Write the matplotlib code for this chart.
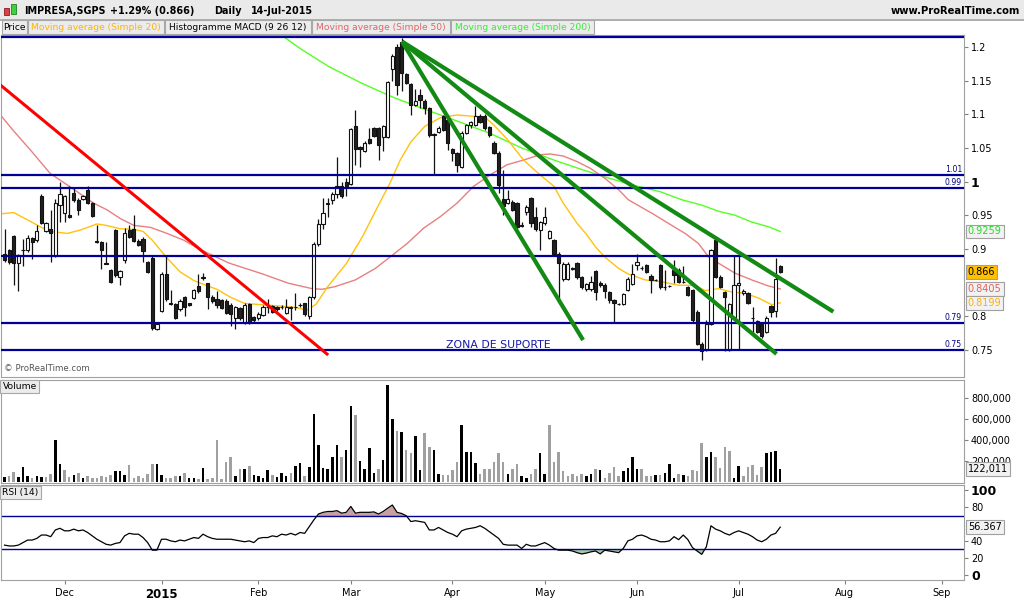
import numpy as np
import pandas as pd
import matplotlib
matplotlib.use('Agg')
import matplotlib.pyplot as plt
from matplotlib.patches import Rectangle
from matplotlib.transforms import blended_transform_factory

# trading calendar (Euronext Lisbon)
holidays = ['2014-12-25', '2014-12-26', '2015-01-01', '2015-04-03', '2015-04-06', '2015-05-01']
days = pd.bdate_range('2014-11-12', '2015-09-30', freq='C', holidays=holidays)

opens = [0.893, 0.898, 0.919, 0.879, 0.898, 0.898, 0.916, 0.913, 0.979, 0.927,
         0.930, 0.890, 0.965, 0.954, 0.950, 0.983, 0.973, 0.974, 0.988, 0.968,
         0.912, 0.911, 0.879, 0.869, 0.928, 0.858, 0.883, 0.928, 0.930, 0.912,
         0.915, 0.880, 0.887, 0.781, 0.808, 0.863, 0.819, 0.818, 0.810, 0.829,
         0.819, 0.827, 0.845, 0.857, 0.849, 0.829, 0.826, 0.824, 0.823, 0.817,
         0.798, 0.812, 0.790, 0.818, 0.799, 0.797, 0.802, 0.813, 0.815, 0.813,
         0.814, 0.805, 0.813, 0.814, 0.817, 0.819, 0.800, 0.828, 0.908, 0.937,
         0.967, 0.973, 0.981, 0.993, 0.999, 0.997, 1.082, 1.051, 1.046, 1.064,
         1.079, 1.079, 1.066, 1.067, 1.168, 1.200, 1.208, 1.160, 1.145, 1.114,
         1.129, 1.120, 1.109, 1.070, 1.074, 1.097, 1.091, 1.048, 1.042, 1.022,
         1.072, 1.084, 1.084, 1.098, 1.098, 1.081, 1.058, 1.043, 0.974, 0.968,
         0.970, 0.968, 0.935, 0.955, 0.975, 0.948, 0.928, 0.938, 0.916, 0.913,
         0.893, 0.855, 0.856, 0.871, 0.879, 0.858, 0.840, 0.841, 0.867, 0.850,
         0.847, 0.836, 0.824, 0.818, 0.818, 0.839, 0.848, 0.876, 0.871, 0.876,
         0.860, 0.854, 0.876, 0.843, 0.845, 0.868, 0.869, 0.851, 0.843, 0.839,
         0.807, 0.759, 0.750, 0.789, 0.913, 0.859, 0.836, 0.750, 0.799, 0.846,
         0.834, 0.834, 0.798, 0.793, 0.789, 0.777, 0.815, 0.808, 0.874]
highs = [0.930, 0.900, 0.921, 0.893, 0.915, 0.920, 0.918, 0.935, 0.981, 0.940,
         0.958, 0.974, 1.000, 0.980, 0.994, 0.990, 0.975, 0.980, 0.994, 0.970,
         0.936, 0.912, 0.911, 0.870, 0.930, 0.869, 0.931, 0.936, 0.950, 0.914,
         0.917, 0.882, 0.889, 0.790, 0.865, 0.889, 0.839, 0.820, 0.826, 0.830,
         0.820, 0.840, 0.862, 0.864, 0.850, 0.832, 0.838, 0.826, 0.825, 0.819,
         0.815, 0.814, 0.819, 0.820, 0.801, 0.806, 0.816, 0.826, 0.817, 0.815,
         0.816, 0.826, 0.815, 0.834, 0.819, 0.820, 0.830, 0.910, 0.945, 0.975,
         0.975, 0.985, 1.037, 1.000, 1.005, 1.080, 1.107, 1.053, 1.060, 1.079,
         1.081, 1.081, 1.084, 1.150, 1.189, 1.205, 1.213, 1.162, 1.147, 1.138,
         1.137, 1.122, 1.111, 1.072, 1.082, 1.099, 1.093, 1.050, 1.044, 1.075,
         1.086, 1.090, 1.112, 1.100, 1.100, 1.083, 1.060, 1.045, 1.017, 0.988,
         0.972, 0.970, 0.940, 0.965, 0.977, 0.963, 0.942, 0.963, 0.928, 0.915,
         0.895, 0.880, 0.880, 0.873, 0.881, 0.860, 0.850, 0.860, 0.869, 0.852,
         0.849, 0.838, 0.826, 0.820, 0.835, 0.858, 0.878, 0.893, 0.875, 0.877,
         0.862, 0.856, 0.877, 0.869, 0.847, 0.883, 0.871, 0.874, 0.845, 0.841,
         0.809, 0.761, 0.794, 0.900, 0.916, 0.861, 0.838, 0.820, 0.889, 0.889,
         0.840, 0.836, 0.813, 0.795, 0.791, 0.800, 0.817, 0.886, 0.876]
lows = [0.880, 0.878, 0.847, 0.837, 0.875, 0.895, 0.885, 0.911, 0.937, 0.925,
        0.881, 0.888, 0.940, 0.940, 0.946, 0.970, 0.950, 0.972, 0.966, 0.948,
        0.909, 0.870, 0.877, 0.850, 0.858, 0.846, 0.879, 0.916, 0.910, 0.904,
        0.881, 0.864, 0.780, 0.780, 0.806, 0.823, 0.816, 0.796, 0.808, 0.800,
        0.815, 0.825, 0.835, 0.854, 0.810, 0.820, 0.812, 0.810, 0.803, 0.785,
        0.781, 0.795, 0.788, 0.788, 0.792, 0.795, 0.800, 0.805, 0.805, 0.808,
        0.811, 0.803, 0.794, 0.809, 0.814, 0.801, 0.796, 0.825, 0.905, 0.930,
        0.948, 0.966, 0.975, 0.976, 0.978, 0.995, 1.025, 1.022, 1.044, 1.056,
        1.066, 1.032, 1.045, 1.065, 1.150, 1.128, 1.135, 1.145, 1.099, 1.112,
        1.110, 1.100, 1.067, 1.010, 1.072, 1.075, 1.047, 1.030, 1.015, 1.020,
        1.070, 1.080, 1.082, 1.087, 1.077, 1.067, 1.041, 0.983, 0.950, 0.966,
        0.956, 0.930, 0.932, 0.950, 0.933, 0.927, 0.898, 0.936, 0.914, 0.891,
        0.824, 0.853, 0.854, 0.868, 0.856, 0.841, 0.838, 0.838, 0.824, 0.844,
        0.827, 0.820, 0.790, 0.816, 0.816, 0.837, 0.846, 0.869, 0.868, 0.864,
        0.834, 0.852, 0.841, 0.839, 0.843, 0.849, 0.849, 0.849, 0.830, 0.792,
        0.757, 0.735, 0.748, 0.787, 0.857, 0.842, 0.749, 0.748, 0.797, 0.750,
        0.832, 0.818, 0.775, 0.775, 0.768, 0.775, 0.799, 0.799, 0.864]
closes = [0.884, 0.881, 0.879, 0.891, 0.898, 0.916, 0.911, 0.926, 0.939, 0.938,
          0.923, 0.968, 0.981, 0.978, 0.948, 0.973, 0.958, 0.979, 0.968, 0.949,
          0.910, 0.898, 0.878, 0.851, 0.861, 0.867, 0.923, 0.918, 0.912, 0.906,
          0.897, 0.866, 0.782, 0.788, 0.863, 0.825, 0.818, 0.798, 0.823, 0.814,
          0.817, 0.839, 0.838, 0.858, 0.829, 0.822, 0.817, 0.812, 0.805, 0.804,
          0.813, 0.797, 0.817, 0.790, 0.794, 0.804, 0.814, 0.814, 0.807, 0.810,
          0.813, 0.813, 0.812, 0.813, 0.816, 0.803, 0.828, 0.908, 0.937, 0.954,
          0.968, 0.981, 0.993, 0.979, 0.993, 1.078, 1.048, 1.048, 1.058, 1.058,
          1.068, 1.055, 1.082, 1.148, 1.186, 1.144, 1.162, 1.147, 1.114, 1.120,
          1.121, 1.109, 1.069, 1.069, 1.080, 1.077, 1.058, 1.042, 1.025, 1.072,
          1.084, 1.088, 1.098, 1.089, 1.079, 1.069, 1.043, 0.995, 0.964, 0.974,
          0.958, 0.933, 0.934, 0.963, 0.938, 0.929, 0.940, 0.947, 0.926, 0.893,
          0.879, 0.878, 0.877, 0.870, 0.858, 0.843, 0.848, 0.851, 0.836, 0.846,
          0.838, 0.824, 0.819, 0.818, 0.833, 0.856, 0.863, 0.880, 0.871, 0.866,
          0.854, 0.854, 0.843, 0.843, 0.845, 0.861, 0.851, 0.851, 0.832, 0.794,
          0.759, 0.749, 0.789, 0.898, 0.859, 0.844, 0.828, 0.818, 0.847, 0.849,
          0.838, 0.820, 0.798, 0.777, 0.770, 0.798, 0.807, 0.855, 0.866]
volumes = [50, 55, 95, 45, 140, 60, 40, 55, 50, 45,
           80, 400, 170, 115, 50, 65, 85, 40, 55, 40,
           35, 55, 45, 65, 100, 100, 65, 160, 40, 55,
           40, 75, 175, 170, 65, 40, 40, 55, 60, 85,
           40, 40, 30, 130, 30, 40, 400, 30, 190, 240,
           60, 120, 120, 150, 70, 60, 40, 116, 70, 50,
           90, 60, 90, 150, 180, 60, 140, 650, 350, 130,
           123, 240, 350, 240, 300, 727, 640, 200, 123, 320,
           85, 123, 210, 926, 595, 485, 475, 300, 280, 438,
           116, 470, 334, 305, 75, 65, 70, 110, 190, 540,
           287, 287, 176, 75, 123, 123, 192, 280, 190, 75,
           120, 170, 60, 40, 75, 120, 275, 75, 540, 192,
           287, 105, 55, 75, 55, 75, 60, 75, 123, 116,
           40, 85, 145, 60, 105, 130, 240, 123, 123, 55,
           55, 65, 65, 85, 170, 40, 75, 65, 55, 116,
           105, 370, 240, 287, 240, 130, 337, 296, 40, 150,
           55, 145, 160, 65, 140, 275, 287, 296, 122.011]
rsi = [35, 34, 34, 35, 38, 41, 41, 43, 47, 47,
       45, 53, 55, 52, 52, 54, 52, 53, 50, 46,
       42, 39, 36, 35, 37, 38, 46, 49, 48, 48,
       44, 38, 29, 29, 42, 42, 40, 39, 41, 40,
       42, 44, 43, 48, 45, 43, 42, 42, 42, 42,
       41, 40, 39, 40, 38, 43, 44, 44, 46, 45,
       48, 47, 49, 47, 50, 49, 57, 65, 72, 74,
       75, 75, 76, 73, 74, 81, 73, 74, 74, 74,
       74.5, 72, 75, 79, 82.7, 74, 72.6, 70, 63, 64,
       63, 62, 53, 53, 56, 53, 50, 48, 45, 52,
       54, 55, 56, 58, 55, 51, 47, 43, 36, 35,
       35, 35, 31, 36, 34, 34, 36, 38, 35, 31,
       29, 29, 29, 28, 26, 24.5, 25.5, 27, 28, 24.5,
       29, 28, 27, 26, 31, 40, 42, 46, 47, 45,
       42, 41, 39, 39, 40, 45, 41.5, 47, 41.5, 32,
       28, 24, 33, 58, 54, 52, 49, 47, 50, 52,
       50, 48, 45, 41, 39, 42, 47, 49, 56.367]

# moving averages (bar position, value)
sma20_x = [-1, 2, 5, 8, 10, 13.6, 16.4, 20, 22, 25, 28, 30, 32, 35, 38, 41, 44, 46, 49, 52,
           56, 60, 63, 65.5, 67.5, 70, 74, 77.5, 81, 83.5, 85.7, 88, 91, 94.4, 98, 101.6,
           104, 106, 109, 112.4, 116, 119, 121, 124, 126, 128, 130, 133, 135, 138.7, 142.4,
           146, 149.6, 151.7, 154.6, 157.5, 160.4, 163.3, 166.2, 168]
sma20_v = [0.952, 0.954, 0.943, 0.932, 0.926, 0.923, 0.928, 0.937, 0.935, 0.930, 0.929, 0.926,
           0.913, 0.888, 0.866, 0.853, 0.845, 0.840, 0.828, 0.819, 0.817, 0.815, 0.813, 0.809,
           0.818, 0.844, 0.878, 0.918, 0.965, 0.998, 1.032, 1.059, 1.082, 1.095, 1.099, 1.097,
           1.096, 1.084, 1.062, 1.032, 1.010, 0.993, 0.968, 0.938, 0.922, 0.903, 0.888, 0.871,
           0.863, 0.854, 0.851, 0.846, 0.846, 0.838, 0.841, 0.836, 0.834, 0.827, 0.817, 0.8199]
sma50_x = [-1, 2, 5.6, 9.9, 13.6, 17.2, 19.3, 22.2, 25.1, 28, 31.6, 35.2, 38.8, 42.4, 48.6,
           55.8, 61.5, 66.6, 68.8, 71.6, 76, 80.3, 83.5, 87.2, 90.8, 94.4, 98, 101.6, 105.2,
           108.8, 112.4, 116, 118.2, 121, 123.9, 126.8, 130, 133, 135.1, 140.2, 144.5, 147.4,
           150.3, 152.5, 155.3, 158.2, 161.8, 165.4, 168]
sma50_v = [1.100, 1.075, 1.047, 1.012, 0.995, 0.978, 0.968, 0.958, 0.945, 0.935, 0.932, 0.923,
           0.913, 0.899, 0.879, 0.863, 0.849, 0.841, 0.840, 0.844, 0.854, 0.871, 0.888, 0.908,
           0.931, 0.948, 0.968, 0.993, 1.010, 1.025, 1.032, 1.040, 1.041, 1.038, 1.030, 1.020,
           1.005, 0.988, 0.973, 0.953, 0.935, 0.923, 0.908, 0.888, 0.876, 0.864, 0.854, 0.845,
           0.8405]
sma200_x = [60.5, 64.4, 70.2, 77.4, 84.6, 90.8, 98, 105, 112, 119, 125, 130, 136, 142,
            146.7, 151, 154.6, 158.2, 161.8, 165.4, 168]
sma200_v = [1.215, 1.196, 1.171, 1.146, 1.124, 1.108, 1.090, 1.072, 1.050, 1.032, 1.018,
            1.007, 0.995, 0.985, 0.973, 0.965, 0.956, 0.950, 0.940, 0.933, 0.9259]

# drawn objects
h_levels = [1.215, 1.01, 0.99, 0.89, 0.79, 0.75]
h_labels = {1.01: '1.01', 0.99: '0.99', 0.79: '0.79', 0.75: '0.75'}
red_line = [(-0.9, 1.1435), (70.1, 0.7424)]
green_start = (86.1, 1.208)
green_ends = [(125.3, 0.7646), (167.2, 0.744), (179.5, 0.8067)]

W, H = 1024, 600


def fx(px):
    return px / W


def fy(py):
    return 1 - py / H


def rect(l, t, r, b):
    return [fx(l), fy(b), (r - l) / W, (b - t) / H]


n = len(closes)
x = np.arange(n)
O = np.array(opens); C = np.array(closes); Hh = np.array(highs); L = np.array(lows)
XMIN, XMAX = -0.87, 207.8
border = '#A0A0A0'
navy = '#000099'

fig = plt.figure(figsize=(W / 100, H / 100), dpi=100)
fig.patch.set_facecolor('white')

# header strip
fig.add_artist(Rectangle((0, fy(20)), 1, 20 / H, transform=fig.transFigure,
                         facecolor='#EAEAEA', edgecolor='none'))
fig.add_artist(Rectangle((0, fy(20.5)), 1, 1 / H, transform=fig.transFigure,
                         facecolor='#B0B0B0', edgecolor='none'))
# icon
fig.add_artist(Rectangle((fx(4), fy(15)), 5 / W, 7 / H, transform=fig.transFigure,
                         facecolor='#E04040', edgecolor='#802020', lw=0.6))
fig.add_artist(Rectangle((fx(11), fy(14)), 5 / W, 10 / H, transform=fig.transFigure,
                         facecolor='#40D040', edgecolor='#208020', lw=0.6))
for s, px in [('IMPRESA,SGPS', 24), ('+1.29% (0.866)', 110), ('Daily', 214), ('14-Jul-2015', 251)]:
    fig.text(fx(px), fy(11), s, fontsize=6.9, fontweight='bold', va='center', ha='left')
fig.text(fx(1020), fy(11), 'www.ProRealTime.com', fontsize=7.2, fontweight='bold',
         va='center', ha='right')

# legend row
legend_boxes = [('Price', 2, 27, 'black'),
                ('Moving average (Simple 20)', 28, 164, '#FFB300'),
                ('Histogramme MACD (9 26 12)', 165, 311, 'black'),
                ('Moving average (Simple 50)', 312, 450, '#E06666'),
                ('Moving average (Simple 200)', 451, 594, '#33EE33')]
for s, l, r, col in legend_boxes:
    fig.add_artist(Rectangle((fx(l), fy(34)), (r - l) / W, 14 / H, transform=fig.transFigure,
                             facecolor='#ECECEC', edgecolor='#A8A8A8', lw=0.8))
    fig.text(fx((l + r) / 2), fy(27), s, fontsize=6.6, color=col, va='center', ha='center')

# ---------------- price panel
ax = fig.add_axes(rect(0.5, 35, 964, 377))
ax.set_xlim(XMIN, XMAX)
ax.set_ylim(0.7097, 1.2178)

ax.plot(sma200_x, sma200_v, color='#55FF22', lw=1.0, zorder=2)
ax.plot(sma50_x, sma50_v, color='#E88080', lw=1.0, zorder=2)
ax.plot(sma20_x, sma20_v, color='#FFC20E', lw=1.0, zorder=2)

up = C >= O
ax.vlines(x, L, Hh, color='#111111', lw=0.9, zorder=3)
bot = np.minimum(O, C)
hgt = np.abs(C - O)
ax.bar(x[up], hgt[up], bottom=bot[up], width=0.7, facecolor='white',
       edgecolor='#111111', lw=0.8, zorder=3.5)
ax.bar(x[~up], hgt[~up], bottom=bot[~up], width=0.7, facecolor='#202020',
       edgecolor='#111111', lw=0.8, zorder=3.5)

trans = blended_transform_factory(ax.transAxes, ax.transData)
for lv in h_levels:
    ax.axhline(lv, color=navy, lw=1.6, zorder=4)
    if lv in h_labels:
        ax.text(0.998, lv + 0.002, h_labels[lv], transform=trans, ha='right', va='bottom',
                fontsize=5.6, color='#000080', zorder=6)

(x0, y0), (x1, y1) = red_line
ax.plot([x0, x1], [y0, y1], color='#FF0000', lw=2.2, zorder=5, solid_capstyle='butt')
for ex, ey in green_ends:
    ax.plot([green_start[0], ex], [green_start[1], ey], color='#138A13', lw=3.0, zorder=5,
            solid_capstyle='butt')

ax.text(107, 0.757, 'ZONA DE SUPORTE', fontsize=7.8, color='#1515A8', ha='center',
        va='center', zorder=6)
ax.text(0.004, 0.012, '\u00a9 ProRealTime.com', transform=ax.transAxes, fontsize=6.2,
        color='#555555', ha='left', va='bottom')

ax.yaxis.tick_right()
pticks = [0.75, 0.8, 0.9, 0.95, 1.0, 1.05, 1.1, 1.15, 1.2]
ax.set_yticks(pticks)
ax.set_yticklabels(['0.75', '0.8', '0.9', '0.95', '1', '1.05', '1.1', '1.15', '1.2'])
ax.tick_params(axis='y', length=3, pad=2, labelsize=7, color='#808080')
for t in ax.get_yticklabels():
    if t.get_text() == '1':
        t.set_fontweight('bold')
        t.set_fontsize(9)
ax.set_xticks([])
for sp in ax.spines.values():
    sp.set_color(border)

boxes = [(0.9259, '0.9259', '#22DD22', '#F2F2F2'),
         (0.8405, '0.8405', '#E06060', '#F2F2F2'),
         (0.8199, '0.8199', '#FFB000', '#F2F2F2'),
         (0.866, '0.866', 'black', '#FFC000')]
for val, s, col, bg in boxes:
    ax.text(1.004, val, s, transform=trans, ha='left', va='center', fontsize=7, color=col,
            bbox=dict(boxstyle='square,pad=0.2', fc=bg, ec='#A0A0A0', lw=0.8),
            clip_on=False, zorder=7)

# ---------------- volume panel
axv = fig.add_axes(rect(0.5, 380, 964, 483))
axv.set_xlim(XMIN, XMAX)
axv.set_ylim(-10000, 971000)
vol = np.array(volumes) * 1000
prev = np.concatenate([[C[0]], C[:-1]])
vcol = np.where(C >= prev, '#000000', '#A0A0A0')
axv.bar(x, vol, width=0.55, color=vcol)
axv.yaxis.tick_right()
axv.set_yticks([200000, 400000, 600000, 800000])
axv.set_yticklabels(['200,000', '400,000', '600,000', '800,000'])
axv.tick_params(axis='y', length=3, pad=2, labelsize=7, color='#808080')
axv.set_xticks([])
for sp in axv.spines.values():
    sp.set_color(border)
tv = blended_transform_factory(axv.transAxes, axv.transData)
axv.text(1.004, vol[-1], '122,011', transform=tv, ha='left', va='center', fontsize=7,
         bbox=dict(boxstyle='square,pad=0.2', fc='#F2F2F2', ec='#A0A0A0', lw=0.8),
         clip_on=False, zorder=7)
axv.text(0.002, 0.98, 'Volume', transform=axv.transAxes, ha='left', va='top', fontsize=6.6,
         bbox=dict(boxstyle='square,pad=0.25', fc='#ECECEC', ec='#A8A8A8', lw=0.8))

# ---------------- RSI panel
axr = fig.add_axes(rect(0.5, 485, 964, 580))
axr.set_xlim(XMIN, XMAX)
axr.set_ylim(-6.5, 106.5)
r = np.array(rsi)
axr.fill_between(x, r, 70, where=r > 70, interpolate=True, color='#C9A0A0', lw=0)
axr.fill_between(x, r, 30, where=r < 30, interpolate=True, color='#A6CBA0', lw=0)
axr.axhline(70, color=navy, lw=1.0)
axr.axhline(30, color=navy, lw=1.0)
axr.plot(x, r, color='black', lw=0.9)
axr.yaxis.tick_right()
axr.set_yticks([0, 20, 40, 80, 100])
axr.set_yticklabels(['0', '20', '40', '80', '100'])
axr.tick_params(axis='y', length=3, pad=2, labelsize=7, color='#808080')
for t in axr.get_yticklabels():
    if t.get_text() in ('0', '100'):
        t.set_fontweight('bold')
        t.set_fontsize(9)
for sp in axr.spines.values():
    sp.set_color(border)
tr = blended_transform_factory(axr.transAxes, axr.transData)
axr.text(1.004, r[-1], '56.367', transform=tr, ha='left', va='center', fontsize=7,
         bbox=dict(boxstyle='square,pad=0.2', fc='#F2F2F2', ec='#A0A0A0', lw=0.8), clip_on=False)
axr.text(0.002, 0.97, 'RSI (14)', transform=axr.transAxes, ha='left', va='top', fontsize=6.6,
         bbox=dict(boxstyle='square,pad=0.25', fc='#ECECEC', ec='#A8A8A8', lw=0.8))

# month ticks
mpos, mlab = [], []
for k in range(1, len(days)):
    if days[k].month != days[k - 1].month:
        mpos.append(k)
        mlab.append('2015' if days[k].month == 1 else days[k].strftime('%b'))
axr.set_xticks(mpos)
axr.set_xticklabels(mlab)
axr.tick_params(axis='x', length=3, pad=3, labelsize=7, color='#808080')
for t in axr.get_xticklabels():
    if t.get_text() == '2015':
        t.set_fontweight('bold')
        t.set_fontsize(8.5)

fig.savefig('out.png', dpi=100)
